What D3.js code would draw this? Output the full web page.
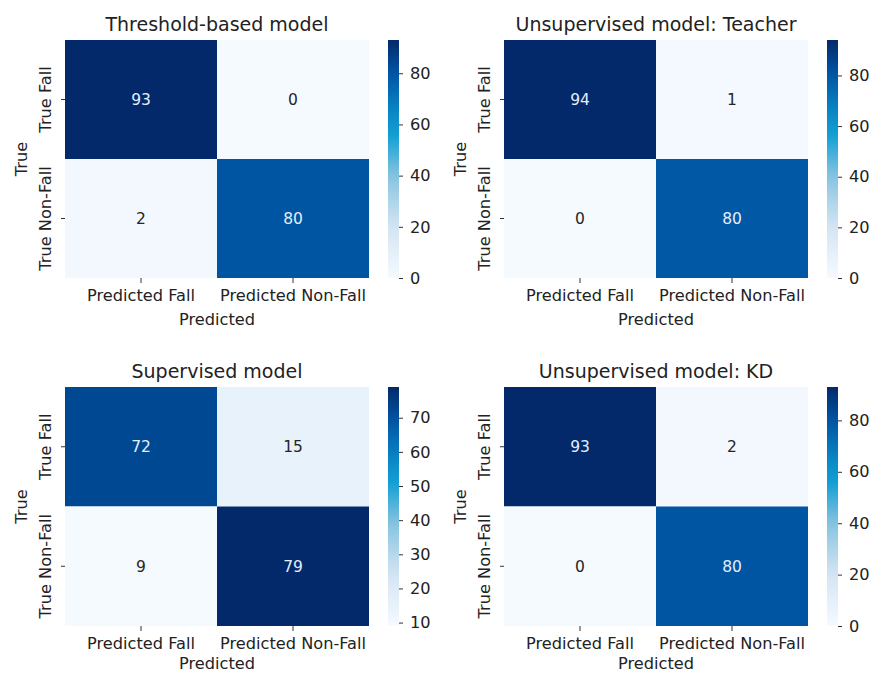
<!DOCTYPE html>
<html>
<head>
<meta charset="utf-8">
<script src="https://cdn.jsdelivr.net/npm/d3@7"></script>
<style>
  body { margin: 0; background: #fff; }
  svg text { font-family: "DejaVu Sans", sans-serif; fill: #222; }
  .tick line { stroke: #333; }
</style>
</head>
<body>
<div id="chart"></div>
<script>
// values
const titles = ['Threshold-based model', 'Unsupervised model: Teacher', 'Supervised model', 'Unsupervised model: KD'];
const matrices = [
    [[93, 0], [2, 80]],
    [[94, 1], [0, 80]],
    [[72, 15], [9, 79]],
    [[93, 2], [0, 80]]
];
const xLabels = ['Predicted Fall', 'Predicted Non-Fall'];
const yLabels = ['True Fall', 'True Non-Fall'];
const cbarTicks = [
    [0, 20, 40, 60, 80],
    [0, 20, 40, 60, 80],
    [10, 20, 30, 40, 50, 60, 70],
    [0, 20, 40, 60, 80]
];

// colormap stops (approximate "Blues" as it looks in the picture)
const cmapPos = [0, 0.215, 0.43, 0.6, 0.7, 0.86, 1];
const cmapCol = ['#f5faff', '#d4e5f3', '#86c3e0', '#129fd3', '#0a86c4', '#0055a3', '#03296a'];
const cmap = d3.scaleLinear().domain(cmapPos).range(cmapCol).interpolate(d3.interpolateRgb);

const width = 873, height = 675;
const colX = [65, 504];
const rowY = [40, 387];
const hmW = 304, hmH = [238, 239];
const xlabOff = [47, 43];
const fs = '16.2px';

const svg = d3.select('#chart').append('svg')
    .attr('width', width)
    .attr('height', height);

const defs = svg.append('defs');

titles.forEach(function (title, i) {
    let col = i % 2, row = Math.floor(i / 2);
    let x0 = colX[col], y0 = rowY[row], h = hmH[row];
    let m = matrices[i];
    let flat = m.flat();
    let vmin = d3.min(flat), vmax = d3.max(flat);
    let norm = d3.scaleLinear().domain([vmin, vmax]).range([0, 1]);

    let g = svg.append('g').attr('class', 'panel');

    let xScale = d3.scaleBand().domain(xLabels).range([x0, x0 + hmW]);
    let yScale = d3.scaleBand().domain(yLabels).range([y0, y0 + h]);

    let cells = [];
    m.forEach((r, ri) => r.forEach((v, ci) => cells.push({row: yLabels[ri], col: xLabels[ci], v: v})));

    g.selectAll('rect.cell')
        .data(cells)
        .enter().append('rect')
        .attr('class', 'cell')
        .attr('x', d => xScale(d.col))
        .attr('y', d => yScale(d.row))
        .attr('width', xScale.bandwidth())
        .attr('height', yScale.bandwidth())
        .attr('fill', d => cmap(norm(d.v)));

    g.selectAll('text.annot')
        .data(cells)
        .enter().append('text')
        .attr('class', 'annot')
        .attr('x', d => xScale(d.col) + xScale.bandwidth() / 2)
        .attr('y', d => yScale(d.row) + yScale.bandwidth() / 2)
        .attr('dy', '0.36em')
        .attr('text-anchor', 'middle')
        .style('font-size', '15.5px')
        .style('fill', d => norm(d.v) > 0.6 ? '#e3eef9' : '#262626')
        .text(d => d.v);

    // axes
    let xAxis = g.append('g')
        .attr('transform', `translate(0, ${y0 + h})`)
        .call(d3.axisBottom(xScale).tickSize(5).tickPadding(6));
    xAxis.select('.domain').remove();
    xAxis.selectAll('text').style('font-size', fs).attr('fill', '#222');

    let yAxis = g.append('g')
        .attr('transform', `translate(${x0}, 0)`)
        .call(d3.axisLeft(yScale).tickSize(4));
    yAxis.select('.domain').remove();
    yAxis.selectAll('text')
        .style('font-size', fs)
        .attr('fill', '#222')
        .attr('text-anchor', 'middle')
        .attr('x', 0)
        .attr('transform', `translate(-20, 0) rotate(-90)`)
        .attr('dy', '0.35em');

    g.append('text')
        .attr('x', x0 + hmW / 2)
        .attr('y', y0 - 9)
        .attr('text-anchor', 'middle')
        .style('font-size', '19px')
        .text(title);

    g.append('text')
        .attr('x', x0 + hmW / 2)
        .attr('y', y0 + h + xlabOff[row])
        .attr('text-anchor', 'middle')
        .style('font-size', fs)
        .text('Predicted');

    g.append('text')
        .attr('transform', `translate(${x0 - 44}, ${y0 + h / 2}) rotate(-90)`)
        .attr('text-anchor', 'middle')
        .attr('dy', '0.35em')
        .style('font-size', fs)
        .text('True');

    // colorbar
    let cbX = x0 + hmW + 19, cbW = 11;
    let gradId = 'grad' + i;
    let grad = defs.append('linearGradient')
        .attr('id', gradId)
        .attr('x1', 0).attr('y1', 1).attr('x2', 0).attr('y2', 0);
    d3.range(0, 1.0001, 0.05).forEach(t => {
        grad.append('stop').attr('offset', t).attr('stop-color', cmap(t));
    });
    g.append('rect')
        .attr('x', cbX).attr('y', y0)
        .attr('width', cbW).attr('height', h)
        .attr('fill', `url(#${gradId})`);

    let cbScale = d3.scaleLinear().domain([vmin, vmax]).range([y0 + h, y0]);
    let cbAxis = g.append('g')
        .attr('transform', `translate(${cbX + cbW}, 0)`)
        .call(d3.axisRight(cbScale).tickValues(cbarTicks[i]).tickSize(4).tickPadding(7));
    cbAxis.select('.domain').remove();
    cbAxis.selectAll('text').style('font-size', fs).attr('fill', '#222');
});
</script>
</body>
</html>
